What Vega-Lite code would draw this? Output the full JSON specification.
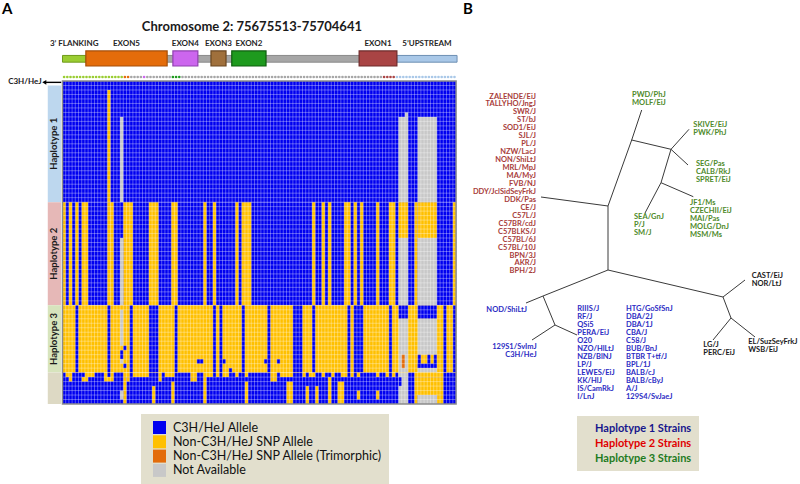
{
"$schema": "https://vega.github.io/schema/vega-lite/v6.json",
"padding": 0,
"spacing": 0,
"config": {"view": {"stroke": null}, "text": {"font": "Lato"}, "legend": {"labelFont": "Lato"}},
"datasets": {
"groups": [
{"g":"H1","label":"Haplotype 1","r0":1,"r1":27},
{"g":"H2","label":"Haplotype 2","r0":27,"r1":50},
{"g":"H3","label":"Haplotype 3","r0":50,"r1":65},
{"g":"OT","label":"","r0":65,"r1":72}],
"features": [
{"f":"IN","label":"","kind":"line","s":7,"e":104.5},
{"f":"FL","label":"3’ FLANKING","kind":"line","s":0,"e":7.3},
{"f":"UP","label":"5’UPSTREAM","kind":"line","s":104.5,"e":123.3},
{"f":"E5","label":"EXON5","kind":"exon","s":7.3,"e":32.7},
{"f":"E4","label":"EXON4","kind":"exon","s":34.5,"e":42.3},
{"f":"E3","label":"EXON3","kind":"exon","s":46.4,"e":51.1},
{"f":"E2","label":"EXON2","kind":"exon","s":52.9,"e":63.6},
{"f":"E1","label":"EXON1","kind":"exon","s":92.7,"e":104.5}],
"snps": [
{"c":0,"s":"FL"},{"c":1,"s":"FL"},{"c":2,"s":"FL"},{"c":3,"s":"FL"},{"c":4,"s":"FL"},{"c":5,"s":"FL"},{"c":6,"s":"FL"},{"c":7,"s":"FL"},{"c":8,"s":"FL"},{"c":9,"s":"FL"},
{"c":10,"s":"FL"},{"c":11,"s":"FL"},{"c":12,"s":"FL"},{"c":13,"s":"FL"},{"c":14,"s":"FL"},{"c":15,"s":"FL"},{"c":16,"s":"FL"},{"c":17,"s":"FL"},{"c":18,"s":"FL"},{"c":19,"s":"E5"},
{"c":20,"s":"E5"},{"c":21,"s":"IN"},{"c":22,"s":"IN"},{"c":23,"s":"IN"},{"c":24,"s":"IN"},{"c":25,"s":"E4"},{"c":26,"s":"IN"},{"c":27,"s":"IN"},{"c":28,"s":"IN"},{"c":29,"s":"IN"},
{"c":30,"s":"IN"},{"c":31,"s":"IN"},{"c":32,"s":"IN"},{"c":33,"s":"IN"},{"c":34,"s":"E2"},{"c":35,"s":"E2"},{"c":36,"s":"E2"},{"c":37,"s":"IN"},{"c":38,"s":"IN"},{"c":39,"s":"IN"},
{"c":40,"s":"IN"},{"c":41,"s":"IN"},{"c":42,"s":"IN"},{"c":43,"s":"IN"},{"c":44,"s":"IN"},{"c":45,"s":"IN"},{"c":46,"s":"IN"},{"c":47,"s":"IN"},{"c":48,"s":"IN"},{"c":49,"s":"IN"},
{"c":50,"s":"IN"},{"c":51,"s":"IN"},{"c":52,"s":"IN"},{"c":53,"s":"IN"},{"c":54,"s":"IN"},{"c":55,"s":"IN"},{"c":56,"s":"IN"},{"c":57,"s":"IN"},{"c":58,"s":"IN"},{"c":59,"s":"IN"},
{"c":60,"s":"IN"},{"c":61,"s":"IN"},{"c":62,"s":"IN"},{"c":63,"s":"IN"},{"c":64,"s":"IN"},{"c":65,"s":"IN"},{"c":66,"s":"IN"},{"c":67,"s":"IN"},{"c":68,"s":"IN"},{"c":69,"s":"IN"},
{"c":70,"s":"IN"},{"c":71,"s":"IN"},{"c":72,"s":"IN"},{"c":73,"s":"IN"},{"c":74,"s":"IN"},{"c":75,"s":"IN"},{"c":76,"s":"IN"},{"c":77,"s":"IN"},{"c":78,"s":"IN"},{"c":79,"s":"IN"},
{"c":80,"s":"IN"},{"c":81,"s":"IN"},{"c":82,"s":"IN"},{"c":83,"s":"IN"},{"c":84,"s":"IN"},{"c":85,"s":"IN"},{"c":86,"s":"IN"},{"c":87,"s":"IN"},{"c":88,"s":"IN"},{"c":89,"s":"IN"},
{"c":90,"s":"IN"},{"c":91,"s":"IN"},{"c":92,"s":"IN"},{"c":93,"s":"IN"},{"c":94,"s":"IN"},{"c":95,"s":"IN"},{"c":96,"s":"IN"},{"c":97,"s":"IN"},{"c":98,"s":"IN"},{"c":99,"s":"IN"},
{"c":100,"s":"E1"},{"c":101,"s":"E1"},{"c":102,"s":"E1"},{"c":103,"s":"E1"},{"c":104,"s":"UP"},{"c":105,"s":"UP"},{"c":106,"s":"UP"},{"c":107,"s":"UP"},{"c":108,"s":"UP"},{"c":109,"s":"UP"},
{"c":110,"s":"UP"},{"c":111,"s":"UP"},{"c":112,"s":"UP"},{"c":113,"s":"UP"},{"c":114,"s":"UP"},{"c":115,"s":"UP"},{"c":116,"s":"UP"},{"c":117,"s":"UP"},{"c":118,"s":"UP"},{"c":119,"s":"UP"},
{"c":120,"s":"UP"},{"c":121,"s":"UP"},{"c":122,"s":"UP"}],
"rows": [
{"r":1},{"r":2},{"r":3},{"r":4},{"r":5},{"r":6},{"r":7},{"r":8},{"r":9},{"r":10},{"r":11},{"r":12},{"r":13},{"r":14},{"r":15},{"r":16},{"r":17},{"r":18},{"r":19},{"r":20},
{"r":21},{"r":22},{"r":23},{"r":24},{"r":25},{"r":26},{"r":27},{"r":28},{"r":29},{"r":30},{"r":31},{"r":32},{"r":33},{"r":34},{"r":35},{"r":36},{"r":37},{"r":38},{"r":39},{"r":40},
{"r":41},{"r":42},{"r":43},{"r":44},{"r":45},{"r":46},{"r":47},{"r":48},{"r":49},{"r":50},{"r":51},{"r":52},{"r":53},{"r":54},{"r":55},{"r":56},{"r":57},{"r":58},{"r":59},{"r":60},
{"r":61},{"r":62},{"r":63},{"r":64},{"r":65},{"r":66},{"r":67},{"r":68},{"r":69},{"r":70},{"r":71}],
"cells": [
{"c0":0,"c1":123,"r0":0,"r1":27,"a":"B"},
{"c0":14,"c1":15,"r0":2,"r1":27,"a":"Y"},
{"c0":18,"c1":19,"r0":8,"r1":27,"a":"G"},
{"c0":107,"c1":108,"r0":7,"r1":8,"a":"G"},
{"c0":105,"c1":108,"r0":8,"r1":27,"a":"G"},
{"c0":111,"c1":117,"r0":8,"r1":27,"a":"G"},
{"c0":0,"c1":123,"r0":27,"r1":50,"a":"B"},
{"c0":0,"c1":1,"r0":27,"r1":50,"a":"Y"},
{"c0":2,"c1":3,"r0":27,"r1":50,"a":"Y"},
{"c0":4,"c1":5,"r0":27,"r1":50,"a":"Y"},
{"c0":6,"c1":8,"r0":27,"r1":50,"a":"Y"},
{"c0":14,"c1":16,"r0":27,"r1":50,"a":"Y"},
{"c0":19,"c1":22,"r0":27,"r1":50,"a":"Y"},
{"c0":27,"c1":30,"r0":27,"r1":50,"a":"Y"},
{"c0":34,"c1":36,"r0":27,"r1":50,"a":"Y"},
{"c0":44,"c1":45,"r0":27,"r1":50,"a":"Y"},
{"c0":47,"c1":48,"r0":27,"r1":50,"a":"Y"},
{"c0":54,"c1":55,"r0":27,"r1":50,"a":"Y"},
{"c0":56,"c1":59,"r0":27,"r1":50,"a":"Y"},
{"c0":78,"c1":79,"r0":27,"r1":50,"a":"Y"},
{"c0":81,"c1":82,"r0":27,"r1":50,"a":"Y"},
{"c0":83,"c1":84,"r0":27,"r1":50,"a":"Y"},
{"c0":88,"c1":90,"r0":27,"r1":50,"a":"Y"},
{"c0":91,"c1":92,"r0":27,"r1":50,"a":"Y"},
{"c0":93,"c1":94,"r0":27,"r1":50,"a":"Y"},
{"c0":98,"c1":99,"r0":27,"r1":50,"a":"Y"},
{"c0":102,"c1":104,"r0":27,"r1":50,"a":"Y"},
{"c0":110,"c1":111,"r0":27,"r1":50,"a":"Y"},
{"c0":122,"c1":123,"r0":27,"r1":50,"a":"Y"},
{"c0":105,"c1":108,"r0":27,"r1":35,"a":"Y"},
{"c0":105,"c1":108,"r0":35,"r1":50,"a":"G"},
{"c0":111,"c1":117,"r0":27,"r1":35,"a":"Y"},
{"c0":111,"c1":117,"r0":35,"r1":50,"a":"G"},
{"c0":18,"c1":19,"r0":35,"r1":50,"a":"G"},
{"c0":0,"c1":123,"r0":50,"r1":65,"a":"Y"},
{"c0":4,"c1":5,"r0":50,"r1":65,"a":"B"},
{"c0":14,"c1":15,"r0":50,"r1":65,"a":"B"},
{"c0":21,"c1":22,"r0":50,"r1":65,"a":"B"},
{"c0":27,"c1":30,"r0":50,"r1":65,"a":"B"},
{"c0":35,"c1":36,"r0":50,"r1":65,"a":"B"},
{"c0":47,"c1":48,"r0":50,"r1":65,"a":"B"},
{"c0":49,"c1":50,"r0":50,"r1":65,"a":"B"},
{"c0":56,"c1":57,"r0":50,"r1":65,"a":"B"},
{"c0":64,"c1":65,"r0":50,"r1":65,"a":"B"},
{"c0":72,"c1":75,"r0":50,"r1":65,"a":"B"},
{"c0":78,"c1":79,"r0":50,"r1":65,"a":"B"},
{"c0":89,"c1":90,"r0":50,"r1":65,"a":"B"},
{"c0":91,"c1":94,"r0":50,"r1":65,"a":"B"},
{"c0":102,"c1":103,"r0":50,"r1":65,"a":"B"},
{"c0":119,"c1":120,"r0":50,"r1":65,"a":"B"},
{"c0":122,"c1":123,"r0":50,"r1":65,"a":"B"},
{"c0":105,"c1":108,"r0":50,"r1":53,"a":"B"},
{"c0":105,"c1":108,"r0":53,"r1":65,"a":"G"},
{"c0":106,"c1":107,"r0":61,"r1":64,"a":"O"},
{"c0":111,"c1":117,"r0":50,"r1":53,"a":"B"},
{"c0":111,"c1":117,"r0":53,"r1":61,"a":"G"},
{"c0":111,"c1":112,"r0":61,"r1":64,"a":"B"},
{"c0":114,"c1":115,"r0":61,"r1":64,"a":"B"},
{"c0":116,"c1":117,"r0":61,"r1":64,"a":"B"},
{"c0":111,"c1":117,"r0":63,"r1":64,"a":"B"},
{"c0":111,"c1":117,"r0":64,"r1":65,"a":"G"},
{"c0":18,"c1":19,"r0":51,"r1":59,"a":"G"},
{"c0":19,"c1":20,"r0":59,"r1":60,"a":"B"},
{"c0":18,"c1":19,"r0":60,"r1":62,"a":"B"},
{"c0":18,"c1":19,"r0":62,"r1":63,"a":"G"},
{"c0":19,"c1":20,"r0":63,"r1":64,"a":"B"},
{"c0":42,"c1":44,"r0":62,"r1":63,"a":"B"},
{"c0":50,"c1":51,"r0":62,"r1":63,"a":"B"},
{"c0":63,"c1":64,"r0":62,"r1":63,"a":"B"},
{"c0":67,"c1":68,"r0":62,"r1":63,"a":"B"},
{"c0":52,"c1":53,"r0":64,"r1":65,"a":"B"},
{"c0":0,"c1":123,"r0":65,"r1":66,"a":"Y"},
{"c0":0,"c1":1,"r0":65,"r1":66,"a":"B"},
{"c0":3,"c1":7,"r0":65,"r1":66,"a":"B"},
{"c0":10,"c1":13,"r0":65,"r1":66,"a":"B"},
{"c0":14,"c1":15,"r0":65,"r1":66,"a":"B"},
{"c0":16,"c1":19,"r0":65,"r1":66,"a":"B"},
{"c0":21,"c1":22,"r0":65,"r1":66,"a":"B"},
{"c0":27,"c1":30,"r0":65,"r1":66,"a":"B"},
{"c0":31,"c1":32,"r0":65,"r1":66,"a":"B"},
{"c0":35,"c1":40,"r0":65,"r1":66,"a":"B"},
{"c0":42,"c1":44,"r0":65,"r1":66,"a":"B"},
{"c0":47,"c1":48,"r0":65,"r1":66,"a":"B"},
{"c0":49,"c1":50,"r0":65,"r1":66,"a":"B"},
{"c0":52,"c1":54,"r0":65,"r1":66,"a":"B"},
{"c0":55,"c1":57,"r0":65,"r1":66,"a":"B"},
{"c0":58,"c1":65,"r0":65,"r1":66,"a":"B"},
{"c0":67,"c1":68,"r0":65,"r1":66,"a":"B"},
{"c0":72,"c1":75,"r0":65,"r1":66,"a":"B"},
{"c0":76,"c1":77,"r0":65,"r1":66,"a":"B"},
{"c0":79,"c1":81,"r0":65,"r1":66,"a":"B"},
{"c0":82,"c1":84,"r0":65,"r1":66,"a":"B"},
{"c0":85,"c1":87,"r0":65,"r1":66,"a":"B"},
{"c0":89,"c1":90,"r0":65,"r1":66,"a":"B"},
{"c0":91,"c1":92,"r0":65,"r1":66,"a":"B"},
{"c0":93,"c1":98,"r0":65,"r1":66,"a":"B"},
{"c0":99,"c1":101,"r0":65,"r1":66,"a":"B"},
{"c0":102,"c1":103,"r0":65,"r1":66,"a":"B"},
{"c0":104,"c1":105,"r0":65,"r1":66,"a":"B"},
{"c0":108,"c1":110,"r0":65,"r1":66,"a":"B"},
{"c0":119,"c1":123,"r0":65,"r1":66,"a":"B"},
{"c0":105,"c1":108,"r0":65,"r1":66,"a":"G"},
{"c0":0,"c1":123,"r0":66,"r1":72,"a":"B"},
{"c0":2,"c1":3,"r0":66,"r1":67,"a":"Y"},
{"c0":6,"c1":8,"r0":66,"r1":67,"a":"Y"},
{"c0":13,"c1":16,"r0":66,"r1":67,"a":"Y"},
{"c0":19,"c1":20,"r0":66,"r1":72,"a":"Y"},
{"c0":20,"c1":21,"r0":66,"r1":67,"a":"Y"},
{"c0":28,"c1":29,"r0":68,"r1":72,"a":"Y"},
{"c0":30,"c1":31,"r0":66,"r1":67,"a":"Y"},
{"c0":34,"c1":35,"r0":67,"r1":72,"a":"Y"},
{"c0":40,"c1":42,"r0":66,"r1":67,"a":"Y"},
{"c0":44,"c1":45,"r0":66,"r1":72,"a":"Y"},
{"c0":57,"c1":58,"r0":67,"r1":72,"a":"Y"},
{"c0":65,"c1":67,"r0":66,"r1":67,"a":"Y"},
{"c0":70,"c1":72,"r0":67,"r1":72,"a":"Y"},
{"c0":76,"c1":77,"r0":68,"r1":72,"a":"Y"},
{"c0":79,"c1":80,"r0":68,"r1":72,"a":"Y"},
{"c0":83,"c1":84,"r0":66,"r1":72,"a":"Y"},
{"c0":86,"c1":88,"r0":67,"r1":72,"a":"Y"},
{"c0":92,"c1":93,"r0":69,"r1":71,"a":"Y"},
{"c0":98,"c1":99,"r0":69,"r1":71,"a":"Y"},
{"c0":110,"c1":119,"r0":66,"r1":70,"a":"Y"},
{"c0":110,"c1":111,"r0":70,"r1":72,"a":"Y"},
{"c0":117,"c1":119,"r0":70,"r1":72,"a":"Y"},
{"c0":111,"c1":117,"r0":70,"r1":72,"a":"G"},
{"c0":105,"c1":108,"r0":66,"r1":72,"a":"G"},
{"c0":105,"c1":106,"r0":66,"r1":68,"a":"B"},
{"c0":18,"c1":19,"r0":69,"r1":71,"a":"G"}],
"edges": [
{"xa":0.8,"ya":-4.4,"xb":-5.9,"yb":-5.3},
{"xa":0.8,"ya":-4.4,"xb":0.8,"yb":2.0},
{"xa":0.8,"ya":-4.4,"xb":3.17,"yb":-11.0},
{"xa":3.17,"ya":-11.0,"xb":4.17,"yb":-14.0},
{"xa":3.17,"ya":-11.0,"xb":7.1,"yb":-10.07},
{"xa":7.1,"ya":-10.07,"xb":8.9,"yb":-12.07},
{"xa":7.1,"ya":-10.07,"xb":8.8,"yb":-8.5},
{"xa":7.1,"ya":-10.07,"xb":6.1,"yb":-6.73},
{"xa":6.1,"ya":-6.73,"xb":4.5,"yb":-3.7},
{"xa":6.1,"ya":-6.73,"xb":9.33,"yb":-5.33},
{"xa":0.8,"ya":2.0,"xb":-5.7,"yb":4.6},
{"xa":-5.7,"ya":4.6,"xb":-7.4,"yb":5.3},
{"xa":-5.7,"ya":4.6,"xb":-4.5,"yb":7.5},
{"xa":-4.5,"ya":7.5,"xb":-6.8,"yb":9.0},
{"xa":-4.5,"ya":7.5,"xb":-2.3,"yb":8.5},
{"xa":0.8,"ya":2.0,"xb":12.3,"yb":4.7},
{"xa":12.3,"ya":4.7,"xb":14.5,"yb":3.0},
{"xa":12.3,"ya":4.7,"xb":13.1,"yb":6.8},
{"xa":13.1,"ya":6.8,"xb":11.3,"yb":9.0},
{"xa":13.1,"ya":6.8,"xb":15.5,"yb":8.7}],
"strains": [
{"name":"ZALENDE/EiJ","g":"H2","side":"L","x":-6.4,"y":-15.35},
{"name":"TALLYHO/JngJ","g":"H2","side":"L","x":-6.4,"y":-14.56},
{"name":"SWR/J","g":"H2","side":"L","x":-6.4,"y":-13.76},
{"name":"ST/bJ","g":"H2","side":"L","x":-6.4,"y":-12.97},
{"name":"SOD1/EiJ","g":"H2","side":"L","x":-6.4,"y":-12.17},
{"name":"SJL/J","g":"H2","side":"L","x":-6.4,"y":-11.38},
{"name":"PL/J","g":"H2","side":"L","x":-6.4,"y":-10.58},
{"name":"NZW/LacJ","g":"H2","side":"L","x":-6.4,"y":-9.79},
{"name":"NON/ShiLtJ","g":"H2","side":"L","x":-6.4,"y":-8.99},
{"name":"MRL/MpJ","g":"H2","side":"L","x":-6.4,"y":-8.2},
{"name":"MA/MyJ","g":"H2","side":"L","x":-6.4,"y":-7.4},
{"name":"FVB/NJ","g":"H2","side":"L","x":-6.4,"y":-6.61},
{"name":"DDY/JclSidSeyFrkJ","g":"H2","side":"L","x":-6.4,"y":-5.81},
{"name":"DDK/Pas","g":"H2","side":"L","x":-6.4,"y":-5.02},
{"name":"CE/J","g":"H2","side":"L","x":-6.4,"y":-4.22},
{"name":"C57L/J","g":"H2","side":"L","x":-6.4,"y":-3.43},
{"name":"C57BR/cdJ","g":"H2","side":"L","x":-6.4,"y":-2.63},
{"name":"C57BLKS/J","g":"H2","side":"L","x":-6.4,"y":-1.84},
{"name":"C57BL/6J","g":"H2","side":"L","x":-6.4,"y":-1.04},
{"name":"C57BL/10J","g":"H2","side":"L","x":-6.4,"y":-0.25},
{"name":"BPN/3J","g":"H2","side":"L","x":-6.4,"y":0.55},
{"name":"AKR/J","g":"H2","side":"L","x":-6.4,"y":1.34},
{"name":"BPH/2J","g":"H2","side":"L","x":-6.4,"y":2.14},
{"name":"PWD/PhJ","g":"H3","side":"R","x":3.2,"y":-15.5},
{"name":"MOLF/EiJ","g":"H3","side":"R","x":3.2,"y":-14.7},
{"name":"SKIVE/EiJ","g":"H3","side":"R","x":9.33,"y":-12.5},
{"name":"PWK/PhJ","g":"H3","side":"R","x":9.33,"y":-11.7},
{"name":"SEG/Pas","g":"H3","side":"R","x":9.6,"y":-8.57},
{"name":"CALB/RkJ","g":"H3","side":"R","x":9.6,"y":-7.77},
{"name":"SPRET/EiJ","g":"H3","side":"R","x":9.6,"y":-6.97},
{"name":"JF1/Ms","g":"H3","side":"R","x":9.0,"y":-4.73},
{"name":"CZECHII/EiJ","g":"H3","side":"R","x":9.0,"y":-3.93},
{"name":"MAI/Pas","g":"H3","side":"R","x":9.0,"y":-3.13},
{"name":"MOLG/DnJ","g":"H3","side":"R","x":9.0,"y":-2.33},
{"name":"MSM/Ms","g":"H3","side":"R","x":9.0,"y":-1.53},
{"name":"SEA/GnJ","g":"H3","side":"R","x":3.4,"y":-3.33},
{"name":"P/J","g":"H3","side":"R","x":3.4,"y":-2.53},
{"name":"SM/J","g":"H3","side":"R","x":3.4,"y":-1.73},
{"name":"CAST/EiJ","g":"OT","side":"R","x":15.17,"y":2.6},
{"name":"NOR/LtJ","g":"OT","side":"R","x":15.17,"y":3.4},
{"name":"LG/J","g":"OT","side":"R","x":10.33,"y":9.5},
{"name":"PERC/EiJ","g":"OT","side":"R","x":10.33,"y":10.3},
{"name":"EL/SuzSeyFrkJ","g":"OT","side":"R","x":14.83,"y":9.23},
{"name":"WSB/EiJ","g":"OT","side":"R","x":14.83,"y":10.03},
{"name":"NOD/ShiLtJ","g":"H1","side":"L","x":-7.3,"y":6.0},
{"name":"129S1/SvImJ","g":"H1","side":"L","x":-6.33,"y":9.67},
{"name":"C3H/HeJ","g":"H1","side":"L","x":-6.33,"y":10.47},
{"name":"RIIIS/J","g":"H1","side":"R","x":-2.27,"y":5.93},
{"name":"RF/J","g":"H1","side":"R","x":-2.27,"y":6.73},
{"name":"QSi5","g":"H1","side":"R","x":-2.27,"y":7.53},
{"name":"PERA/EiJ","g":"H1","side":"R","x":-2.27,"y":8.33},
{"name":"O20","g":"H1","side":"R","x":-2.27,"y":9.13},
{"name":"NZO/HlLtJ","g":"H1","side":"R","x":-2.27,"y":9.93},
{"name":"NZB/BlNJ","g":"H1","side":"R","x":-2.27,"y":10.73},
{"name":"LP/J","g":"H1","side":"R","x":-2.27,"y":11.53},
{"name":"LEWES/EiJ","g":"H1","side":"R","x":-2.27,"y":12.33},
{"name":"KK/HlJ","g":"H1","side":"R","x":-2.27,"y":13.13},
{"name":"IS/CamRkJ","g":"H1","side":"R","x":-2.27,"y":13.93},
{"name":"I/LnJ","g":"H1","side":"R","x":-2.27,"y":14.73},
{"name":"HTG/GoSfSnJ","g":"H1","side":"R","x":2.6,"y":5.93},
{"name":"DBA/2J","g":"H1","side":"R","x":2.6,"y":6.73},
{"name":"DBA/1J","g":"H1","side":"R","x":2.6,"y":7.53},
{"name":"CBA/J","g":"H1","side":"R","x":2.6,"y":8.33},
{"name":"C58/J","g":"H1","side":"R","x":2.6,"y":9.13},
{"name":"BUB/BnJ","g":"H1","side":"R","x":2.6,"y":9.93},
{"name":"BTBR T+tf/J","g":"H1","side":"R","x":2.6,"y":10.73},
{"name":"BPL/1J","g":"H1","side":"R","x":2.6,"y":11.53},
{"name":"BALB/cJ","g":"H1","side":"R","x":2.6,"y":12.33},
{"name":"BALB/cByJ","g":"H1","side":"R","x":2.6,"y":13.13},
{"name":"A/J","g":"H1","side":"R","x":2.6,"y":13.93},
{"name":"129S4/SvJaeJ","g":"H1","side":"R","x":2.6,"y":14.73}]
},
"hconcat": [
{
"width": 463, "height": 484,
"layer": [
{"data": {"name": "groups"}, "mark": {"type": "rect"},
 "encoding": {
  "x": {"datum": -4.6, "type": "quantitative", "scale": {"domain": [-19.53, 125.16], "nice": false, "zero": false}, "axis": null},
  "x2": {"datum": -0.45},
  "y": {"field": "r0", "type": "quantitative", "scale": {"domain": [-18.06, 89.83], "nice": false, "zero": false, "reverse": true}, "axis": null},
  "y2": {"field": "r1"},
  "fill": {"field": "g", "type": "nominal", "legend": null, "scale": {"domain": ["H1","H2","H3","OT","FL","E5","E4","E3","E2","E1","UP","IN"], "range": ["#bdd7ee","#e6b8b7","#d7e4bd","#ddd9c4","#9acd32","#e46c0a","#cc66ee","#a0703c","#1e9a1e","#a94444","#a9c8e8","#a6a6a6"]}}}},
{"data": {"name": "features"}, "transform": [{"filter": "datum.kind === 'line'"}], "mark": {"type": "rect", "strokeWidth": 1},
 "encoding": {
  "x": {"field": "s", "type": "quantitative", "scale": {"domain": [-19.53, 125.16], "nice": false, "zero": false}, "axis": null},
  "x2": {"field": "e"},
  "y": {"datum": -5.7, "type": "quantitative", "scale": {"domain": [-18.06, 89.83], "nice": false, "zero": false, "reverse": true}, "axis": null},
  "y2": {"datum": -4.2},
  "fill": {"field": "f", "type": "nominal", "legend": null, "scale": {"domain": ["H1","H2","H3","OT","FL","E5","E4","E3","E2","E1","UP","IN"], "range": ["#bdd7ee","#e6b8b7","#d7e4bd","#ddd9c4","#9acd32","#e46c0a","#cc66ee","#a0703c","#1e9a1e","#a94444","#a9c8e8","#a6a6a6"]}},
  "stroke": {"field": "f", "type": "nominal", "legend": null, "scale": {"domain": ["FL","E5","E4","E3","E2","E1","UP","IN"], "range": ["#6f9a1a","#a54e08","#9040b0","#6a4620","#0e5e0e","#6e2a2a","#6d8fb3","#8a8a8a"]}}}},
{"data": {"name": "features"}, "transform": [{"filter": "datum.kind === 'exon'"}], "mark": {"type": "rect", "strokeWidth": 1.2},
 "encoding": {
  "x": {"field": "s", "type": "quantitative", "scale": {"domain": [-19.53, 125.16], "nice": false, "zero": false}, "axis": null},
  "x2": {"field": "e"},
  "y": {"datum": -6.7, "type": "quantitative", "scale": {"domain": [-18.06, 89.83], "nice": false, "zero": false, "reverse": true}, "axis": null},
  "y2": {"datum": -3.35},
  "fill": {"field": "f", "type": "nominal", "legend": null, "scale": {"domain": ["H1","H2","H3","OT","FL","E5","E4","E3","E2","E1","UP","IN"], "range": ["#bdd7ee","#e6b8b7","#d7e4bd","#ddd9c4","#9acd32","#e46c0a","#cc66ee","#a0703c","#1e9a1e","#a94444","#a9c8e8","#a6a6a6"]}},
  "stroke": {"field": "f", "type": "nominal", "legend": null, "scale": {"domain": ["FL","E5","E4","E3","E2","E1","UP","IN"], "range": ["#6f9a1a","#a54e08","#9040b0","#6a4620","#0e5e0e","#6e2a2a","#6d8fb3","#8a8a8a"]}}}},
{"data": {"name": "features"}, "transform": [{"filter": "datum.label !== ''"}, {"calculate": "(datum.s + datum.e) / 2", "as": "m"}],
 "mark": {"type": "text", "fontSize": 8, "fontWeight": "bold", "color": "#262626", "align": "center", "baseline": "middle"},
 "encoding": {
  "x": {"field": "m", "type": "quantitative", "scale": {"domain": [-19.53, 125.16], "nice": false, "zero": false}, "axis": null},
  "y": {"datum": -8.25, "type": "quantitative", "scale": {"domain": [-18.06, 89.83], "nice": false, "zero": false, "reverse": true}, "axis": null},
  "text": {"field": "label"}}},
{"data": {"name": "snps"}, "mark": {"type": "point", "filled": true, "size": 7, "xOffset": 1.6, "opacity": 1},
 "encoding": {
  "x": {"field": "c", "type": "quantitative", "scale": {"domain": [-19.53, 125.16], "nice": false, "zero": false}, "axis": null},
  "y": {"datum": -0.9, "type": "quantitative", "scale": {"domain": [-18.06, 89.83], "nice": false, "zero": false, "reverse": true}, "axis": null},
  "fill": {"field": "s", "type": "nominal", "legend": null, "scale": {"domain": ["H1","H2","H3","OT","FL","E5","E4","E3","E2","E1","UP","IN"], "range": ["#bdd7ee","#e6b8b7","#d7e4bd","#ddd9c4","#9acd32","#e46c0a","#cc66ee","#a0703c","#1e9a1e","#a94444","#a9c8e8","#a6a6a6"]}}}},
{"data": {"name": "cells"}, "mark": {"type": "rect"},
 "encoding": {
  "x": {"field": "c0", "type": "quantitative", "scale": {"domain": [-19.53, 125.16], "nice": false, "zero": false}, "axis": null},
  "x2": {"field": "c1"},
  "y": {"field": "r0", "type": "quantitative", "scale": {"domain": [-18.06, 89.83], "nice": false, "zero": false, "reverse": true}, "axis": null},
  "y2": {"field": "r1"},
  "color": {"field": "a", "type": "nominal",
   "scale": {"domain": ["B","Y","O","G"], "range": ["#0000f0","#ffc000","#e36c0a","#c8c8c8"]},
   "legend": {"title": null, "orient": "none", "legendX": 141, "legendY": 414, "direction": "vertical",
    "fillColor": "#e2dfcd", "padding": 7, "symbolType": "square", "symbolSize": 169, "symbolStrokeWidth": 0, "symbolOffset": 5,
    "labelFontSize": 12.5, "labelColor": "#111111", "labelOffset": 7, "rowPadding": 1.3, "labelLimit": 400,
    "labelExpr": "datum.label === 'B' ? 'C3H/HeJ Allele' : datum.label === 'Y' ? 'Non-C3H/HeJ SNP Allele' : datum.label === 'O' ? 'Non-C3H/HeJ SNP Allele (Trimorphic)' : 'Not Available'"}}}},
{"data": {"name": "snps"}, "transform": [{"filter": "datum.c > 0"}], "mark": {"type": "rule", "color": "#ffffff", "strokeWidth": 0.6, "opacity": 0.55},
 "encoding": {
  "x": {"field": "c", "type": "quantitative", "scale": {"domain": [-19.53, 125.16], "nice": false, "zero": false}, "axis": null},
  "y": {"datum": 0, "type": "quantitative", "scale": {"domain": [-18.06, 89.83], "nice": false, "zero": false, "reverse": true}, "axis": null},
  "y2": {"datum": 72}}},
{"data": {"name": "rows"}, "mark": {"type": "rule", "color": "#ffffff", "strokeWidth": 0.6, "opacity": 0.55},
 "encoding": {
  "x": {"datum": 0, "type": "quantitative", "scale": {"domain": [-19.53, 125.16], "nice": false, "zero": false}, "axis": null},
  "x2": {"datum": 123},
  "y": {"field": "r", "type": "quantitative", "scale": {"domain": [-18.06, 89.83], "nice": false, "zero": false, "reverse": true}, "axis": null}}},
{"data": {"values": [{}]}, "mark": {"type": "rect", "fill": null, "stroke": "#8c8c8c", "strokeWidth": 1.5},
 "encoding": {
  "x": {"datum": 0, "type": "quantitative", "scale": {"domain": [-19.53, 125.16], "nice": false, "zero": false}, "axis": null},
  "x2": {"datum": 123},
  "y": {"datum": 0, "type": "quantitative", "scale": {"domain": [-18.06, 89.83], "nice": false, "zero": false, "reverse": true}, "axis": null},
  "y2": {"datum": 72}}},
{"data": {"name": "groups"}, "transform": [{"filter": "datum.label !== ''"}, {"calculate": "(datum.r0 + datum.r1) / 2", "as": "m"}],
 "mark": {"type": "text", "angle": 270, "fontSize": 9.5, "fontWeight": "bold", "color": "#1a1a1a", "align": "center", "baseline": "middle"},
 "encoding": {
  "x": {"datum": -2.5, "type": "quantitative", "scale": {"domain": [-19.53, 125.16], "nice": false, "zero": false}, "axis": null},
  "y": {"field": "m", "type": "quantitative", "scale": {"domain": [-18.06, 89.83], "nice": false, "zero": false, "reverse": true}, "axis": null},
  "text": {"field": "label"}}},
{"data": {"values": [{}]}, "mark": {"type": "rule", "color": "#000000", "strokeWidth": 1.4},
 "encoding": {
  "x": {"datum": -5.6, "type": "quantitative", "scale": {"domain": [-19.53, 125.16], "nice": false, "zero": false}, "axis": null},
  "x2": {"datum": -0.4},
  "y": {"datum": 0.3, "type": "quantitative", "scale": {"domain": [-18.06, 89.83], "nice": false, "zero": false, "reverse": true}, "axis": null}}},
{"data": {"values": [{}]}, "mark": {"type": "point", "shape": "triangle-left", "filled": true, "size": 22, "color": "#000000", "opacity": 1},
 "encoding": {
  "x": {"datum": -5.7, "type": "quantitative", "scale": {"domain": [-19.53, 125.16], "nice": false, "zero": false}, "axis": null},
  "y": {"datum": 0.3, "type": "quantitative", "scale": {"domain": [-18.06, 89.83], "nice": false, "zero": false, "reverse": true}, "axis": null}}},
{"data": {"values": [{}]}, "mark": {"type": "text", "fontSize": 8, "fontWeight": "bold", "color": "#1a1a1a", "align": "right", "baseline": "middle"},
 "encoding": {
  "x": {"datum": -6.5, "type": "quantitative", "scale": {"domain": [-19.53, 125.16], "nice": false, "zero": false}, "axis": null},
  "y": {"datum": 0.3, "type": "quantitative", "scale": {"domain": [-18.06, 89.83], "nice": false, "zero": false, "reverse": true}, "axis": null},
  "text": {"value": "C3H/HeJ"}}},
{"data": {"values": [{}]}, "mark": {"type": "text", "fontSize": 13, "fontWeight": "bold", "color": "#1a1a1a", "align": "center", "baseline": "middle"},
 "encoding": {
  "x": {"datum": 59.2, "type": "quantitative", "scale": {"domain": [-19.53, 125.16], "nice": false, "zero": false}, "axis": null},
  "y": {"datum": -12.0, "type": "quantitative", "scale": {"domain": [-18.06, 89.83], "nice": false, "zero": false, "reverse": true}, "axis": null},
  "text": {"value": "Chromosome 2: 75675513-75704641"}}},
{"data": {"values": [{}]}, "mark": {"type": "text", "fontSize": 15, "fontWeight": "bold", "color": "#000000", "align": "center", "baseline": "middle"},
 "encoding": {
  "x": {"datum": -17.3, "type": "quantitative", "scale": {"domain": [-19.53, 125.16], "nice": false, "zero": false}, "axis": null},
  "y": {"datum": -16.05, "type": "quantitative", "scale": {"domain": [-18.06, 89.83], "nice": false, "zero": false, "reverse": true}, "axis": null},
  "text": {"value": "A"}}}
]
},
{
"width": 337, "height": 484,
"layer": [
{"data": {"name": "edges"}, "mark": {"type": "rule", "color": "#3a3a3a", "strokeWidth": 1},
 "encoding": {
  "x": {"field": "xa", "type": "quantitative", "scale": {"domain": [-13.7, 20], "nice": false, "zero": false}, "axis": null},
  "y": {"field": "ya", "type": "quantitative", "scale": {"domain": [-25, 23.4], "nice": false, "zero": false, "reverse": true}, "axis": null},
  "x2": {"field": "xb"},
  "y2": {"field": "yb"}}},
{"data": {"name": "strains"}, "transform": [{"filter": "datum.side === 'L'"}],
 "mark": {"type": "text", "fontSize": 7.5, "fontWeight": "bold", "align": "right", "baseline": "middle"},
 "encoding": {
  "x": {"field": "x", "type": "quantitative", "scale": {"domain": [-13.7, 20], "nice": false, "zero": false}, "axis": null},
  "y": {"field": "y", "type": "quantitative", "scale": {"domain": [-25, 23.4], "nice": false, "zero": false, "reverse": true}, "axis": null},
  "text": {"field": "name"},
  "color": {"field": "g", "type": "nominal",
   "scale": {"domain": ["H1","H2","H3","OT"], "range": ["#2c2cc4","#a83c3a","#4e8a2a","#1a1a1a"]},
   "legend": {"title": null, "orient": "none", "legendX": 114, "legendY": 416, "values": ["H1","H2","H3"],
    "fillColor": "#e2dfcd", "padding": 7, "symbolSize": 0, "symbolOpacity": 0, "symbolStrokeWidth": 0, "labelOffset": 0,
    "labelFontSize": 11, "labelFontWeight": "bold", "rowPadding": 3, "labelLimit": 400,
    "labelExpr": "datum.label === 'H1' ? 'Haplotype 1 Strains' : datum.label === 'H2' ? 'Haplotype 2 Strains' : 'Haplotype 3 Strains'",
    "encode": {"labels": {"update": {"fill": {"signal": "datum.value === 'H1' ? '#16168c' : datum.value === 'H2' ? '#e00000' : '#1e7b1e'"}}}}}}}},
{"data": {"name": "strains"}, "transform": [{"filter": "datum.side === 'R'"}],
 "mark": {"type": "text", "fontSize": 7.5, "fontWeight": "bold", "align": "left", "baseline": "middle"},
 "encoding": {
  "x": {"field": "x", "type": "quantitative", "scale": {"domain": [-13.7, 20], "nice": false, "zero": false}, "axis": null},
  "y": {"field": "y", "type": "quantitative", "scale": {"domain": [-25, 23.4], "nice": false, "zero": false, "reverse": true}, "axis": null},
  "text": {"field": "name"},
  "color": {"field": "g", "type": "nominal",
   "scale": {"domain": ["H1","H2","H3","OT"], "range": ["#2c2cc4","#a83c3a","#4e8a2a","#1a1a1a"]},
   "legend": {"title": null, "orient": "none", "legendX": 114, "legendY": 416, "values": ["H1","H2","H3"],
    "fillColor": "#e2dfcd", "padding": 7, "symbolSize": 0, "symbolOpacity": 0, "symbolStrokeWidth": 0, "labelOffset": 0,
    "labelFontSize": 11, "labelFontWeight": "bold", "rowPadding": 3, "labelLimit": 400,
    "labelExpr": "datum.label === 'H1' ? 'Haplotype 1 Strains' : datum.label === 'H2' ? 'Haplotype 2 Strains' : 'Haplotype 3 Strains'",
    "encode": {"labels": {"update": {"fill": {"signal": "datum.value === 'H1' ? '#16168c' : datum.value === 'H2' ? '#e00000' : '#1e7b1e'"}}}}}}}},
{"data": {"values": [{}]}, "mark": {"type": "text", "fontSize": 15, "fontWeight": "bold", "color": "#000000", "align": "center", "baseline": "middle"},
 "encoding": {
  "x": {"datum": -13.2, "type": "quantitative", "scale": {"domain": [-13.7, 20], "nice": false, "zero": false}, "axis": null},
  "y": {"datum": -24.1, "type": "quantitative", "scale": {"domain": [-25, 23.4], "nice": false, "zero": false, "reverse": true}, "axis": null},
  "text": {"value": "B"}}}
]
}
],
"resolve": {"scale": {"color": "independent", "x": "independent", "y": "independent"}, "legend": {"color": "independent"}}
}
